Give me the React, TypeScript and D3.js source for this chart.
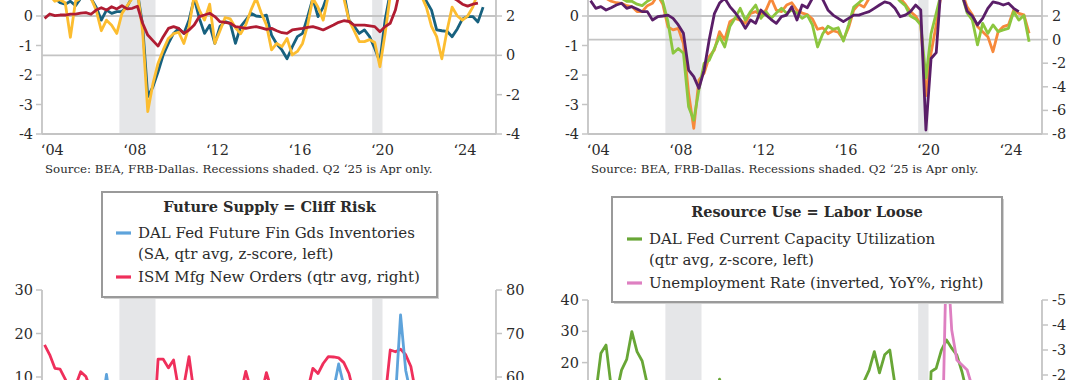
import React from "react";
import * as d3 from "d3";

const FONT = "'DejaVu Serif', 'Liberation Serif', serif";

// ---------- categories ----------
const xTickYears = [2004, 2008, 2012, 2016, 2020, 2024];
const xTickLabels = ["‘04", "‘08", "‘12", "‘16", "‘20", "‘24"];
// recession spans as quarter index (0 = 2004Q1): start, end (exclusive)
const recessions = [
  [15, 22],
  [64, 66],
];
const sourceText = "Source: BEA, FRB-Dallas. Recessions shaded. Q2 ‘25 is Apr only.";

// ---------- top-left series (quarterly, 2004Q1 .. 2025Q2) ----------
const tlBlue = [
  0.9, 0.7, 0.6, 0.45, 0.4, 0.5, 0.35, 0.6, 0.7, 0.6,
  0.3, -0.14, 0.2, 0.09, 0.15, 0.15, 0.32, 0.65, 0.8, -0.3,
  -2.73, -2.4, -1.89, -1.32, -0.93, -0.59, -0.42, -0.59, -0.14, 0.6,
  -0.08, -0.59, -0.31, -0.93, -0.36, -0.19, -0.25, -0.93, -0.36, -0.14,
  0.09, 0.0, -0.02, 0.03, -0.65, -0.95, -1.15, -1.45, -1.05, -0.7,
  -0.59, -0.02, 0.6, -0.02, 0.3, 0.8, 0.9, 0.9, 0.8, -0.14,
  -0.35, -0.59, -0.47, -0.7, -1.1, -1.55, -0.14, 0.8, 1.3, 1.5,
  1.4, 1.2, 1.0, 0.8, 0.5, 0.2, -0.47, -0.5, -0.52, -0.7,
  -0.44, -0.1, -0.02, -0.02, -0.2, 0.3,
];
const tlYellow = [
  1.0, 0.7, 0.5, 0.55, 0.45, -0.72, 0.5, 0.6, 0.7, 0.6,
  0.2, -0.5, -0.14, -0.31, -0.59, 0.09, 0.35, 0.6, 0.8, -0.5,
  -3.24, -2.3, -1.6, -1.15, -0.76, -0.6, -0.55, -0.93, -0.36, 0.7,
  0.2, -0.14, 0.4, -0.93, -0.5, -0.05, -0.1, -0.4, -0.6, -0.3,
  0.2, 0.6, 0.1, -0.3, -1.15, -0.93, -1.04, -0.76, -1.32, -1.2,
  -0.93, -0.3, 0.6, 0.3, -0.14, 0.7, 0.9, 0.9, 0.6, -0.14,
  -0.5, -0.87, -0.87, -0.8, -0.9, -1.72, -0.6, 0.7, 1.4, 1.6,
  1.5, 1.2, 0.9, 0.7, 0.3, -0.35, -0.7, -1.45, -0.5, 0.3,
  0.0, -0.14, 0.0, 0.3, 0.8, null,
];
const tlRed = [
  1.88, 2.1, 2.02, 2.05, 2.05, 2.1, 2.1, 2.15, 2.17, 2.09,
  2.3, 2.42, 2.3, 2.47, 2.36, 2.52, 2.36, 2.39, 2.5, 1.63,
  1.03, 0.75, 0.47, 0.95, 1.37, 1.46, 1.37, 1.12, 1.29, 1.54,
  1.97, 2.05, 2.14, 1.97, 1.71, 1.68, 1.63, 1.46, 1.42, 1.37,
  1.42, 1.46, 1.4, 1.32, 1.37, 1.25, 1.15, 1.12, 1.29, 1.33,
  1.37, 1.42, 1.46, 1.38, 1.29, 1.42, 1.54, 1.68, 1.76, 1.72,
  1.54, 1.54, 1.54, 1.5, 1.46, 1.2, 1.46, 1.63, 2.3, 3.5,
  4.5, 5.5, 6.0, 5.5, 4.8, 4.2, 3.8, 3.4, 3.1, 2.95,
  2.8, 2.6, 2.5, 2.6, 2.65, null,
];

// ---------- top-right series ----------
const trOrange = [
  0.9, 0.8, 0.7, 0.6, 0.5, 0.45, 0.43, 0.35, 0.32, 0.15,
  0.15, 0.35, 0.43, 0.7, 0.4, -0.37, -0.47, -0.42, -0.93, -2.62,
  -3.81, -2.17, -1.94, -1.38, -1.15, -0.53, -0.81, -0.19, -0.08, -0.14,
  -0.25, 0.09, 0.15, 0.03, 0.2, 0.6, 0.2, 0.15, 0.37, 0.45,
  0.2, 0.1, 0.05, -0.1, -0.45, -0.4, -0.6, -0.5, -0.55, -0.8,
  -0.4, 0.2, 0.4, 0.3, 0.6, 0.8, 0.9, 0.9, 0.8, 0.7,
  0.6, 0.4, 0.15, 0.0, -0.3, -2.7, -1.25, -0.3, 0.8, 1.2,
  1.3, 1.0, 0.8, 0.3, 0.04, -0.36, -0.53, -0.7, -1.21, -0.53,
  -0.36, -0.3, 0.2, 0.09, 0.04, -0.59,
];
const trGreen = [
  1.0, 0.9, 0.8, 0.8, 0.7, 0.6, 0.6, 0.5, 0.5, 0.4,
  0.35, 0.5, 0.6, 0.7, 0.5, -0.2, -1.26, -1.1, -1.26, -3.08,
  -3.53, -2.5, -1.6, -1.5, -1.1, -0.7, -1.05, -0.36, -0.08, 0.26,
  -0.14, 0.15, 0.37, -0.08, 0.15, -0.08, 0.1, 0.26, 0.09, 0.2,
  0.1, -0.08, 0.03, -0.3, -1.05, -0.6, -0.35, -0.45, -0.4, -0.85,
  -0.3, 0.3, 0.45, 0.6, 0.7, 0.9, 1.0, 1.0, 0.9, 0.7,
  0.5, 0.35, 0.0, -0.1, -0.3, -2.1, -0.6, 0.1, 0.8, 1.2,
  1.3, 1.1, 0.7, 0.1, -0.14, -0.98, -0.25, -0.59, -0.3, -0.53,
  -0.47, -0.42, 0.15, -0.14, 0.02, -0.87,
];
const trPurple = [
  3.3, 2.65, 2.8, 2.51, 2.7, 2.93, 3.08, 2.65, 2.79, 2.6,
  2.37, 2.37, 1.66, 1.94, 2.0, 2.08, 1.8, 1.24, 0.53, -2.58,
  -3.14, -4.13, -2.6, 0.0, 2.2, 3.1, 3.5, 2.8, 2.3, 1.7,
  0.95, 1.66, 1.38, 2.51, 2.08, 1.7, 1.38, 1.94, 2.08, 2.79,
  1.66, 2.93, 2.7, 3.5, 3.8, 3.4, 2.51, 2.08, 1.8, 1.52,
  1.8, 2.08, 2.08, 2.23, 2.37, 2.65, 2.93, 3.2, 3.08, 2.65,
  1.94, 2.08, 2.37, 2.93, 2.5, -7.66, -1.6, -1.1, 5.0, 12.0,
  5.5, 5.0, 3.8, 2.4, 2.0, 1.24, 1.8, 2.65, 3.2, 3.1,
  2.93, 3.08, 2.65, 2.37, null, null,
];

// ---------- bottom-left series ----------
const blBlue = [
  3, 4, 2, 5, 1, 3, 2, 0, 4, 1,
  -1, 2, 10.6, 2, -2, -4, -6, -8, -12, -15,
  -10, -5, -2, 1, 3, 2, 4, 5, 3, 1,
  -1, 0, 2, -2, 1, 3, 0, 2, 4, 3,
  1, 0, -2, -3, -5, -4, -2, 0, 2, 4,
  5, 6, 5, 7, 6, 8, 7, 13.0, 8, 3,
  1, 0, -2, -6, -14, -2, 4, 7, 5, 24.3,
  11.5, 6, 2, -3, -4, -6, -5, -3, -4, -2,
  -1, 0, 2, 1, -3, -2,
];
const blRed = [
  67.4, 65.1, 62.0, 61.8, 59.5, 57, 58, 61.2, 60.1, 57,
  55, 56, 55, 56, 54, 52, 50, 48, 45, 35,
  33, 45, 64.1, 64.1, 62.1, 63.9, 57, 58, 64.7, 56,
  55, 54, 53, 52, 53, 55, 54, 55, 56, 61.3,
  57, 56, 56, 61.0, 57, 53, 51, 49, 50, 52,
  55, 57, 62.0, 60.8, 63.1, 64.7, 64.6, 64.4, 63.3, 60.8,
  56, 52, 48, 47, 45, 40, 55, 66.2, 65.8, 66.4,
  65.1, 62.4, 56, 52, 48, 47, 46, 47, 47, 48,
  49, 49, 50, 47, 46, 45,
];

// ---------- bottom-right series ----------
const brGreen = [
  12, 10, 23, 25.6, 12, 10, 17.6, 21, 29.9, 23.5,
  20.5, 13, 9, 7, 5, 2, -3, -6, -12, -25,
  -32, -22, -10, 0, 8, 14.7, 10, 6, 12, 8,
  2, 4, 7, 5, 3, 6, 8, 4, 7, 9,
  10, 8, 6, 2, -5, -3, -4, -2, -6, -4,
  2, 6, 10, 14, 17.6, 23.5, 16.7, 22.5, 24.0, 13,
  9, 6, 2, 0, -5, -30, 17.1, 18.2, 24.0, 27.2,
  24.6, 22.4, 17, 10, 5, 0, 2, -2, 1, -1,
  -3, -1, 2, 0, 1, -4,
];
const brPink = [
  -0.3, -0.5, -0.6, -0.4, -0.4, -0.5, -0.4, -0.5, -0.6, -0.5,
  -0.4, -0.5, -0.2, 0.0, 0.1, 0.4, 0.5, 0.9, 1.4, 2.1,
  3.3, 4.2, 3.9, 3.1, 1.1, 0.3, 0.2, -0.4, -0.9, -0.6,
  -0.5, -0.9, -0.7, -0.9, -1.0, -0.8, -0.5, -0.6, -0.8, -0.8,
  -1.2, -1.4, -1.2, -1.2, -1.1, -0.9, -0.9, -0.7, -0.6, -0.5,
  -0.2, -0.3, -0.4, -0.5, -0.6, -0.6, -0.6, -0.4, -0.5, -0.3,
  -0.2, -0.3, -0.2, -0.3, 0.2, 9.4, 5.2, 3.2, 2.4, -7.2,
  -3.8, -2.6, -2.4, -2.2, -1.5, -0.6, -0.3, 0.0, 0.1, 0.1,
  0.3, 0.4, 0.5, 0.4, 0.1, 0.2,
];

// ---------- tick values ----------
const tlLeftTicks = [-4, -3, -2, -1, 0, 1, 2, 3, 4];
const tlRightTicks = [-4, -2, 0, 2, 4, 6, 8];
const trLeftTicks = [-4, -3, -2, -1, 0, 1, 2, 3, 4];
const trRightTicks = [-8, -6, -4, -2, 0, 2, 4, 6, 8, 10, 12];
const blLeftTicks = [30, 20, 10, 0, -10, -20];
const blRightTicks = [80, 70, 60, 50, 40, 30];
const brLeftTicks = [40, 30, 20, 10, 0, -10, -20, -30, -40];
const brRightTicks = [-5, -4, -3, -2, -1, 0, 1, 2, 3, 4, 5];

// ---------- legend texts ----------
const blLegendTitle = "Future Supply = Cliff Risk";
const blLegendItems = [
  ["DAL Fed Future Fin Gds Inventories", "(SA, qtr avg, z-score, left)"],
  ["ISM Mfg New Orders (qtr avg, right)"],
];
const brLegendTitle = "Resource Use = Labor Loose";
const brLegendItems = [
  ["DAL Fed Current Capacity Utilization", "(qtr avg, z-score, left)"],
  ["Unemployment Rate (inverted, YoY%, right)"],
];

const AXIS = "#c4c4c4";
const BAND = "#e5e6e8";
const TEXT = "#2b2b2b";
const LW = 2.8;
const VIEW_H = 380;

type Series = { values: (number | null)[]; side: "L" | "R"; color: string };

// only ticks whose label falls inside the visible page are drawn
const visible = (y: number) => y >= 4 && y <= VIEW_H + 2;

function Panel(props: {
  id: string;
  ox: number;
  top: number;
  bottom: number;
  yL: d3.ScaleLinear<number, number>;
  yR: d3.ScaleLinear<number, number>;
  ticksL: number[];
  ticksR: number[];
  grid: boolean;
  xAxis: boolean;
  series: Series[];
}) {
  const { id, ox, top, bottom, yL, yR, ticksL, ticksR, grid, xAxis, series } = props;
  const left = ox + 42;
  const right = ox + 496;
  const xq = d3.scaleLinear().domain([0, 88]).range([left, right]);
  const lineFor = (s: Series) => {
    const y = s.side === "L" ? yL : yR;
    return d3
      .line<number | null>()
      .defined((v) => v != null)
      .x((_, i) => xq(i + 0.5))
      .y((v) => y(v as number))(s.values) as string;
  };
  const vTop = Math.max(top, -4);
  const vBot = Math.min(bottom, VIEW_H + 4);
  return (
    <g>
      <defs>
        <clipPath id={id}>
          <rect x={left} y={top} width={right - left} height={bottom - top} />
        </clipPath>
      </defs>
      {recessions.map(([a, b], k) => (
        <rect key={k} x={xq(a)} y={vTop} width={xq(b) - xq(a)} height={vBot - vTop} fill={BAND} />
      ))}
      {grid && (
        <g>
          <line x1={left} x2={right} y1={yL(0)} y2={yL(0)} stroke={AXIS} strokeWidth={1.8} />
          <line x1={left} x2={right} y1={yR(0)} y2={yR(0)} stroke={AXIS} strokeWidth={1.8} />
        </g>
      )}
      <line x1={left} x2={left} y1={vTop} y2={vBot} stroke={AXIS} strokeWidth={1.8} />
      <line x1={right} x2={right} y1={vTop} y2={vBot} stroke={AXIS} strokeWidth={1.8} />
      {xAxis && <line x1={left} x2={right} y1={bottom} y2={bottom} stroke={AXIS} strokeWidth={1.8} />}
      {ticksL
        .filter((t) => visible(yL(t)))
        .map((t) => (
          <g key={"l" + t}>
            <line x1={left - 6} x2={left} y1={yL(t)} y2={yL(t)} stroke={AXIS} strokeWidth={1.5} />
            <text x={left - 9} y={yL(t)} dy="0.35em" textAnchor="end" fontSize={14.5} fill={TEXT}>
              {String(t)}
            </text>
          </g>
        ))}
      {ticksR
        .filter((t) => visible(yR(t)))
        .map((t) => (
          <g key={"r" + t}>
            <line x1={right} x2={right + 6} y1={yR(t)} y2={yR(t)} stroke={AXIS} strokeWidth={1.5} />
            <text x={right + 10} y={yR(t)} dy="0.35em" textAnchor="start" fontSize={14.5} fill={TEXT}>
              {String(t)}
            </text>
          </g>
        ))}
      <g clipPath={`url(#${id})`}>
        {series.map((s, k) => (
          <path key={k} d={lineFor(s)} fill="none" stroke={s.color} strokeWidth={LW} strokeLinejoin="round" />
        ))}
      </g>
      {xAxis &&
        xTickYears.map((yr, k) => (
          <text key={yr} x={xq((yr - 2004) * 4 + 2)} y={155} textAnchor="middle" fontSize={14.5} fill={TEXT}>
            {xTickLabels[k]}
          </text>
        ))}
      {xAxis && (
        <text x={ox + 45} y={173} fontSize={11.8} fill={TEXT}>
          {sourceText}
        </text>
      )}
    </g>
  );
}

function Legend(props: {
  x: number;
  y: number;
  w: number;
  h: number;
  title: string;
  items: string[][];
  colors: string[];
  textX: number;
  rows: number[];
}) {
  const { x, y, w, h, title, items, colors, textX, rows } = props;
  let r = 0;
  return (
    <g>
      <rect x={x + 2} y={y + 2} width={w} height={h} fill="#d0d0d0" />
      <rect x={x} y={y} width={w} height={h} fill="#ffffff" stroke="#9a9a9a" strokeWidth={2} />
      <text x={x + w / 2} y={y + 20} textAnchor="middle" fontSize={14.5} fontWeight="bold" fill={TEXT}>
        {title}
      </text>
      {items.map((lines, k) => {
        const out = lines.map((ln, j) => {
          const yy = rows[r++];
          return (
            <g key={j}>
              {j === 0 && (
                <line x1={textX - 22} x2={textX - 7} y1={yy - 5} y2={yy - 5} stroke={colors[k]} strokeWidth={3.2} />
              )}
              <text x={textX} y={yy} fontSize={15} fill={TEXT}>
                {ln}
              </text>
            </g>
          );
        });
        return <g key={k}>{out}</g>;
      })}
    </g>
  );
}

export default function App() {
  const DX = 546;
  const topTop = -102;
  const topBot = 134;
  const tlL = d3.scaleLinear().domain([-4, 4]).range([topBot, topTop]);
  const tlR = d3.scaleLinear().domain([-4, 8]).range([topBot, topTop]);
  const trL = d3.scaleLinear().domain([-4, 4]).range([topBot, topTop]);
  const trR = d3.scaleLinear().domain([-8, 12]).range([topBot, topTop]);
  const blL = d3.scaleLinear().domain([-20, 30]).range([507.5, 290]);
  const blR = d3.scaleLinear().domain([30, 80]).range([507.5, 290]);
  const brL = d3.scaleLinear().domain([-40, 40]).range([550.4, 300]);
  const brR = d3.scaleLinear().domain([-5, 5]).range([300, 550]);

  return (
    <svg
      width={1080}
      height={380}
      style={{ position: "absolute", left: 0, top: 0, background: "#ffffff", fontFamily: FONT }}
    >
      <rect x={0} y={0} width={1080} height={380} fill="#ffffff" />
      <Panel
        id="c-tl"
        ox={0}
        top={topTop}
        bottom={topBot}
        yL={tlL}
        yR={tlR}
        ticksL={tlLeftTicks}
        ticksR={tlRightTicks}
        grid={true}
        xAxis={true}
        series={[
          { values: tlBlue, side: "L", color: "#17617f" },
          { values: tlYellow, side: "L", color: "#fcbd30" },
          { values: tlRed, side: "R", color: "#b01c32" },
        ]}
      />
      <Panel
        id="c-tr"
        ox={DX}
        top={topTop}
        bottom={topBot}
        yL={trL}
        yR={trR}
        ticksL={trLeftTicks}
        ticksR={trRightTicks}
        grid={true}
        xAxis={true}
        series={[
          { values: trOrange, side: "L", color: "#f7893b" },
          { values: trGreen, side: "L", color: "#8cc63f" },
          { values: trPurple, side: "R", color: "#5a1e68" },
        ]}
      />
      <Panel
        id="c-bl"
        ox={0}
        top={290}
        bottom={600}
        yL={blL}
        yR={blR}
        ticksL={blLeftTicks}
        ticksR={blRightTicks}
        grid={false}
        xAxis={false}
        series={[
          { values: blRed, side: "R", color: "#ef2f5b" },
          { values: blBlue, side: "L", color: "#5ea3db" },
        ]}
      />
      <Panel
        id="c-br"
        ox={DX}
        top={300}
        bottom={600}
        yL={brL}
        yR={brR}
        ticksL={brLeftTicks}
        ticksR={brRightTicks}
        grid={false}
        xAxis={false}
        series={[
          { values: brGreen, side: "L", color: "#68a636" },
          { values: brPink, side: "R", color: "#de7fc1" },
        ]}
      />
      <Legend
        x={102}
        y={192}
        w={335}
        h={105}
        title={blLegendTitle}
        items={blLegendItems}
        colors={["#5ea3db", "#ef2f5b"]}
        textX={138}
        rows={[238, 259, 282]}
      />
      <Legend
        x={612}
        y={197}
        w={390}
        h={105}
        title={brLegendTitle}
        items={brLegendItems}
        colors={["#68a636", "#de7fc1"]}
        textX={649}
        rows={[244, 265, 288]}
      />
    </svg>
  );
}
